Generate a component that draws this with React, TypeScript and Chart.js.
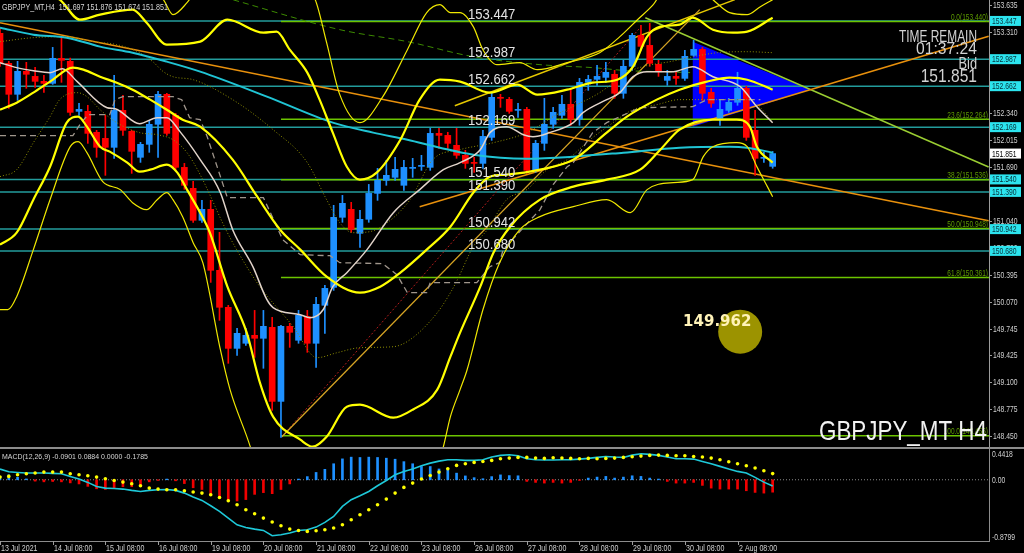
import React, { useEffect, useRef } from "react";
import { Chart, registerables } from "chart.js";

Chart.register(...registerables);

// ---------------- Candles: GBPJPY H4, bar 0 = 13 Jul 2021 08:00 ----------------
const OPEN = [
  153.298, 152.937, 152.564, 152.841, 152.78, 152.72, 152.696, 152.997, 152.961, 152.359,
  152.359, 152.107, 152.034, 151.926, 152.371, 152.119, 151.806, 151.962, 152.203, 152.564,
  152.311, 151.685, 151.433, 151.048, 151.18, 150.446, 150.001, 149.507, 149.568, 149.664,
  149.628, 149.76, 148.869, 149.772, 149.604, 149.892, 149.568, 150.025, 150.241, 151.084,
  151.18, 150.891, 151.06, 151.372, 151.529, 151.565, 151.469, 151.673, 151.697, 151.685,
  152.094, 152.07, 151.95, 151.83, 151.745, 151.733, 152.046, 152.528, 152.504, 152.371,
  152.383, 151.649, 151.974, 152.203, 152.311, 152.444, 152.263, 152.708, 152.744, 152.768,
  152.805, 152.576, 152.901, 153.274, 153.153, 152.925, 152.732, 152.78, 152.756, 153.033,
  153.105, 152.588, 152.275, 152.371, 152.468, 152.636, 152.131, 151.794, 151.697,
];
const HIGH = [
  153.358, 152.961, 152.961, 152.949, 152.889, 152.793, 153.129, 153.238, 153.0, 152.456,
  152.432, 152.131, 152.311, 152.793, 152.552, 152.131, 151.986, 152.251, 152.6, 152.576,
  152.335, 151.733, 151.517, 151.288, 151.288, 150.903, 150.025, 149.748, 149.748, 149.964,
  149.964, 149.88, 149.784, 149.808, 149.964, 149.964, 150.121, 150.265, 151.228, 151.348,
  151.264, 151.168, 151.48, 151.673, 151.77, 151.806, 151.77, 151.794, 151.83, 152.155,
  152.155, 152.107, 152.155, 151.89, 151.806, 152.131, 152.576, 152.564, 152.528, 152.456,
  152.407, 152.01, 152.516, 152.407, 152.552, 152.624, 152.756, 152.793, 152.913, 152.949,
  152.853, 152.973, 153.298, 153.394, 153.418, 152.973, 152.853, 152.829, 153.093, 153.214,
  153.129, 152.636, 152.492, 152.516, 152.829, 152.66, 152.371, 151.866, 151.876,
];
const LOW = [
  152.901, 152.395, 152.492, 152.636, 152.648, 152.588, 152.684, 152.708, 152.311, 152.311,
  151.974, 151.806, 151.589, 151.794, 152.07, 151.613, 151.745, 151.866, 151.806, 152.07,
  151.649, 151.421, 151.024, 151.024, 150.301, 149.844, 149.327, 149.423, 149.543, 149.399,
  149.267, 148.761, 148.436, 149.519, 149.568, 149.459, 149.279, 149.688, 150.205, 151.024,
  150.903, 150.723, 151.024, 151.288, 151.469, 151.529, 151.409, 151.565, 151.649, 151.649,
  151.914, 151.914, 151.794, 151.673, 151.625, 151.673, 152.01, 152.407, 152.335, 152.287,
  151.613, 151.625, 151.89, 152.155, 152.275, 152.191, 152.191, 152.612, 152.672, 152.708,
  152.516, 152.516, 152.853, 153.093, 152.901, 152.78, 152.672, 152.684, 152.732, 153.021,
  152.492, 152.407, 152.191, 152.347, 152.432, 152.01, 151.589, 151.745, 151.674,
];
const CLOSE = [
  152.937, 152.564, 152.841, 152.805, 152.72, 152.696, 152.997, 152.973, 152.347, 152.383,
  152.094, 151.926, 151.926, 152.371, 152.131, 151.878, 151.962, 152.203, 152.564, 152.094,
  151.685, 151.469, 151.048, 151.18, 150.446, 150.001, 149.507, 149.688, 149.664, 149.628,
  149.772, 148.869, 149.772, 149.7, 149.904, 149.568, 150.037, 150.229, 151.084, 151.252,
  150.939, 151.06, 151.372, 151.529, 151.589, 151.661, 151.685, 151.685, 151.709, 152.094,
  152.07, 151.974, 151.83, 151.733, 151.733, 152.058, 152.528, 152.516, 152.359, 152.383,
  151.649, 151.974, 152.203, 152.347, 152.444, 152.263, 152.708, 152.744, 152.78, 152.829,
  152.576, 152.901, 153.274, 153.141, 152.937, 152.841, 152.78, 152.756, 153.021, 153.105,
  152.576, 152.456, 152.383, 152.468, 152.636, 152.046, 151.794, 151.806, 151.851,
];

// ---------------- Indicator curves (bar index, price) ----------------
const BAND_A = [[5.0,153.78],[6.8,153.703],[9.1,153.462],[11.4,153.523],[15.1,153.583],[16.7,153.426],[19.0,153.162],[22.8,153.198],[25.9,153.462],[30.0,153.306],[31.5,153.318],[33.0,153.101],[35.0,152.825],[36.4,152.5],[37.9,152.103],[39.5,151.693],[41.0,151.537],[42.9,151.621],[45.6,152.018],[47.8,152.5],[50.1,152.74],[52.4,152.716],[55.8,152.584],[58.9,152.68],[61.2,152.56],[64.6,152.62],[67.5,152.704],[70.3,152.74],[72.1,152.897],[73.7,153.258],[75.2,153.378],[77.4,153.402],[78.9,153.486],[81.2,153.342],[83.5,153.306],[85.1,153.318],[88.0,153.486]];
const BAND_E = [[17.1,153.823],[18.6,153.703],[19.7,153.523],[21.3,153.667],[22.8,153.883],[28.5,154.18],[34.2,153.883],[35.9,153.703],[37.2,153.186],[38.7,152.56],[41.0,152.223],[43.6,152.536],[46.4,153.101],[48.6,153.547],[50.1,153.643],[51.3,153.547],[52.4,153.547],[53.9,153.378],[55.0,153.101],[56.6,152.921],[59.2,152.945],[61.2,152.861],[64.6,152.945],[68.3,153.065],[70.6,153.258],[72.6,153.462],[74.4,153.643],[75.7,153.823],[79.7,153.847],[81.2,153.703],[83.1,153.547],[85.1,153.523],[86.6,153.619],[88.0,153.703]];
const BAND_B = [[0,152.379],[1.9,152.463],[3.8,152.584],[5.7,152.716],[8.3,152.885],[9.5,152.861],[11.4,152.776],[13.3,152.703],[15.1,152.62],[17.1,152.5],[19.0,152.379],[20.8,152.259],[22.8,152.175],[26.5,151.778],[29.3,151.332],[31.9,150.935],[34.2,150.695],[37.2,150.37],[41.0,150.177],[43.3,150.249],[45.6,150.418],[48.6,150.695],[51.3,150.971],[53.9,151.38],[55.8,151.573],[57.7,151.597],[61.5,151.657],[65.3,151.778],[69.1,152.103],[71.4,152.295],[74.8,152.5],[77.4,152.62],[80.5,152.716],[83.1,152.764],[85.1,152.74],[88.0,152.62]];
const BAND_D = [[0,150.755],[1.9,150.899],[3.8,151.296],[5.7,151.693],[7.6,152.223],[8.9,152.295],[9.9,152.175],[11.4,151.934],[12.5,151.874],[14.5,151.742],[15.9,151.633],[17.1,151.657],[19.0,151.718],[20.2,151.621],[21.3,151.417],[22.8,151.14],[23.9,150.899],[25.9,150.249],[28.1,149.696],[29.6,149.094],[31.1,148.685],[34.2,148.408],[35.6,148.324],[37.2,148.444],[39.5,148.805],[41.0,148.829],[44.8,148.673],[47.0,148.769],[49.8,149.01],[51.3,149.407],[52.4,149.696],[54.7,150.249],[56.2,150.658],[58.1,150.971],[61.5,151.296],[65.3,151.453],[69.1,151.537],[72.9,151.657],[75.2,151.898],[77.4,152.139],[81.2,152.259],[83.9,152.259],[85.4,152.175],[86.2,151.934],[88.0,151.742]];
const BAND_F = [[0,149.972],[0.9,149.972],[1.9,150.129],[3.8,150.695],[5.7,151.296],[8.0,151.934],[8.9,151.994],[9.9,151.862],[11.7,151.513],[13.7,151.417],[15.1,151.26],[16.7,151.176],[17.9,151.296],[19.0,151.38],[19.7,151.296],[20.8,151.092],[22.0,150.779],[23.1,150.538],[25.1,149.491],[26.2,149.01],[28.5,148.324],[30.2,147.686],[34.2,146.964],[39.9,146.724],[45.6,146.964],[49.0,147.806],[50.5,148.324],[51.3,148.685],[52.4,149.01],[53.2,149.25],[55.0,149.972],[56.9,150.538],[59.2,150.935],[61.5,151.092],[65.3,151.212],[69.1,151.296],[71.8,151.14],[73.7,151.417],[76.7,151.501],[78.9,151.537],[80.1,151.814],[81.2,151.934],[83.9,151.982],[85.1,151.934],[86.2,151.694],[87.4,151.453],[88.0,151.332]];
const MA_CYAN = [[0,153.366],[3.8,153.282],[7.6,153.246],[11.4,153.138],[15.1,153.065],[19.0,152.957],[22.8,152.837],[30.4,152.536],[37.9,152.223],[42.5,152.103],[46.4,152.018],[50.1,151.922],[53.9,151.838],[60.0,151.79],[65.3,151.814],[71.0,151.862],[77.4,151.922],[83.1,151.934],[85.1,151.922],[88.0,151.862]];
const MA_WHITE = [[0,152.945],[1.9,152.885],[3.8,152.849],[5.7,152.825],[7.1,152.873],[8.8,152.716],[12.2,152.403],[13.1,152.391],[15.9,152.211],[17.9,152.283],[19.0,152.283],[20.5,152.115],[22.8,151.778],[25.1,151.38],[26.5,150.935],[28.8,150.49],[30.4,150.093],[31.1,149.997],[34.2,149.912],[35.3,149.876],[36.8,149.972],[37.9,150.249],[39.5,150.418],[41.8,150.695],[44.8,151.14],[47.8,151.417],[50.5,151.657],[52.4,151.742],[54.7,151.898],[55.8,152.103],[57.7,152.175],[59.6,152.078],[60.7,152.054],[62.6,152.103],[65.3,152.223],[66.4,152.343],[69.1,152.5],[70.6,152.584],[72.1,152.776],[73.7,152.837],[76.7,152.837],[78.9,152.897],[81.2,152.776],[84.3,152.656],[86.2,152.415],[88.0,152.223]];
const KIJUN_GRAY = [[0,152.066],[8.3,152.066],[9.1,152.199],[10.0,152.319],[12.5,152.319],[13.1,152.5],[14.0,152.536],[19.7,152.536],[20.7,152.499],[21.6,152.283],[22.8,152.259],[23.6,152.054],[25.9,151.32],[30.0,151.32],[30.8,151.14],[32.2,150.815],[34.2,150.634],[37.6,150.622],[38.7,150.538],[43.6,150.526],[45.2,150.394],[46.4,150.177],[48.6,150.177],[49.0,150.297],[54.3,150.297],[55.8,150.49],[56.9,150.538],[57.3,150.695],[61.5,151.176],[63.0,151.477],[64.6,151.693],[65.3,151.742],[67.5,152.103],[69.1,152.223],[70.6,152.295],[72.9,152.403],[78.9,152.415],[80.5,152.5],[86.6,152.5]];
const DOT_SLOW = [[0,153.198],[3.8,153.246],[7.6,153.258],[10.6,153.198],[13.3,153.162],[15.9,153.065],[17.4,152.957],[18.6,152.837],[19.7,152.776],[22.0,152.74],[26.5,152.5],[31.1,152.139],[35.0,151.742],[37.2,151.296],[38.7,151.019],[40.2,150.899],[42.1,150.911],[44.1,151.019],[46.7,151.296],[49.3,151.778],[52.4,151.898],[56.2,151.982],[60.0,152.103],[63.4,152.319],[68.3,152.584],[71.4,152.825],[73.2,152.897],[76.3,152.957],[79.0,153.017],[81.7,153.065],[85.1,153.077],[88.0,153.065]];
const DOT_MID = [[0,151.573],[1.9,151.657],[3.8,151.982],[5.7,152.295],[6.8,152.5],[8.8,152.584],[9.9,152.536],[11.4,152.379],[13.3,152.223],[15.9,152.103],[17.9,152.078],[19.7,152.018],[21.3,151.862],[22.8,151.597],[25.9,150.899],[28.1,150.49],[29.6,150.25],[33.4,149.768],[36.1,149.395],[38.4,149.455],[41.0,149.515],[44.8,149.527],[46.7,149.611],[49.8,149.936],[51.3,150.177],[52.1,150.334],[53.9,150.731],[55.5,150.935],[57.7,151.296],[60.0,151.417],[62.3,151.657],[64.6,151.778],[67.2,152.018],[69.5,152.199],[72.1,152.379],[74.8,152.439],[77.4,152.5],[80.1,152.5],[85.1,152.5],[86.6,152.403],[88.0,152.223]];
const DASH_GREEN = [[20.0,153.9],[26.5,153.703],[38.7,153.342],[46.4,153.198],[53.9,153.017],[61.5,152.921],[67.5,152.885],[71.4,152.849],[75.2,152.837],[78.6,152.825]];

// ---------------- Drawn objects ----------------
const TREND_ORANGE_DOWN = [[0,153.426],[112.6,151.043]];
const TREND_ORANGE_UP = [[47.8,151.212],[112.6,153.262]];
const TREND_GOLD_UP = [[32.1,148.444],[79.7,153.583]];
const TREND_RED_DOT = [[32.1,148.444],[72.9,153.366]];
const TREND_YELLOW_UP = [[51.8,152.427],[83.7,153.703]];
const TREND_YG_DOWN = [[73.5,153.486],[112.6,151.69]];
const TRIANGLE = [[78.9,153.198],[92.3,152.62],[78.9,152.175]];

const LEVELS = [153.447, 152.987, 152.662, 152.169, 151.54, 151.39, 150.942, 150.68];
const LEVEL_TEXT_BAR = 53.3;
const FIB_PCT = [0.0, 23.6, 38.2, 50.0, 61.8, 100.0];
const FIB_PRICE = [153.44, 152.264, 151.536, 150.948, 150.361, 148.456];
const FIB_START_BAR = 32;
const PRICE_TICKS = [153.635, 153.31, 152.34, 152.015, 151.69, 151.04, 150.72, 150.395, 150.07, 149.745, 149.425, 149.1, 148.775, 148.45];
const BID = 151.851;
const MARKER = { bar: 84.3, price: 149.708, textBar: 77.8, label: "149.962" };

// ---------------- MACD(12,26,9) ----------------
const MACD_HIST = [
  0.05, 0.072, 0.035, 0.012, -0.02, -0.03, -0.025, -0.03, -0.045, -0.06,
  -0.095, -0.13, -0.14, -0.115, -0.1, -0.1, -0.075, -0.03, -0.01, 0.01,
  -0.015, -0.055, -0.115, -0.14, -0.2, -0.245, -0.29, -0.305, -0.285, -0.21,
  -0.185, -0.2, -0.14, -0.06, 0.01, 0.045, 0.105, 0.15, 0.23, 0.3,
  0.325, 0.32, 0.325, 0.32, 0.31, 0.295, 0.26, 0.23, 0.19, 0.19,
  0.155, 0.135, 0.095, 0.055, 0.03, 0.015, 0.045, 0.07, 0.06, 0.057,
  -0.024, -0.038, -0.048, -0.038, -0.048, -0.038, -0.01, 0.024, 0.038, 0.048,
  0.024, 0.038, 0.057, 0.048, 0.024, 0.01, -0.024, -0.048, -0.048, -0.038,
  -0.081, -0.12, -0.134, -0.134, -0.134, -0.158, -0.182, -0.192, -0.1785,
];
const MACD_LINE = [
  0.153, 0.115, 0.105, 0.096, 0.096, 0.096, 0.091, 0.086, 0.048, 0.01,
  -0.038, -0.096, -0.12, -0.125, -0.134, -0.153, -0.168, -0.153, -0.144, -0.139,
  -0.153, -0.192, -0.249, -0.297, -0.374, -0.455, -0.551, -0.647, -0.685, -0.709,
  -0.728, -0.805, -0.79, -0.766, -0.728, -0.718, -0.68, -0.613, -0.527, -0.383,
  -0.287, -0.23, -0.168, -0.086, -0.01, 0.072, 0.12, 0.153, 0.201, 0.239,
  0.268, 0.287, 0.287, 0.278, 0.278, 0.287, 0.326, 0.35, 0.359, 0.345,
  0.302, 0.287, 0.283, 0.283, 0.287, 0.287, 0.297, 0.307, 0.321, 0.335,
  0.326, 0.321, 0.354, 0.374, 0.364, 0.35, 0.326, 0.302, 0.302, 0.297,
  0.263, 0.23, 0.192, 0.153, 0.12, 0.096, 0.034, -0.034, -0.0901,
];
const MACD_SIGNAL = [
  0.038, 0.048, 0.072, 0.086, 0.096, 0.11, 0.11, 0.11, 0.086, 0.072,
  0.057, 0.038, 0.014, -0.01, -0.034, -0.057, -0.086, -0.12, -0.134, -0.144,
  -0.144, -0.158, -0.177, -0.192, -0.216, -0.254, -0.302, -0.359, -0.431, -0.489,
  -0.551, -0.608, -0.661, -0.709, -0.728, -0.742, -0.733, -0.718, -0.694, -0.647,
  -0.575, -0.503, -0.431, -0.359, -0.278, -0.192, -0.11, -0.048, 0.01, 0.062,
  0.11, 0.158, 0.206, 0.23, 0.249, 0.263, 0.278, 0.302, 0.311, 0.321,
  0.321, 0.311, 0.307, 0.316, 0.311, 0.307, 0.302, 0.307, 0.302, 0.307,
  0.311, 0.321, 0.33, 0.34, 0.35, 0.354, 0.35, 0.345, 0.345, 0.335,
  0.326, 0.311, 0.287, 0.259, 0.23, 0.201, 0.168, 0.129, 0.0884,
];
const MACD_MAX = 0.4418;
const MACD_MIN = -0.8799;
const DATE_BARS = [0, 6, 12, 18, 24, 30, 36, 42, 48, 54, 60, 66, 72, 78, 84];
const DATE_LABELS = ["13 Jul 2021", "14 Jul 08:00", "15 Jul 08:00", "16 Jul 08:00", "19 Jul 08:00", "20 Jul 08:00", "21 Jul 08:00", "22 Jul 08:00", "23 Jul 08:00", "26 Jul 08:00", "27 Jul 08:00", "28 Jul 08:00", "29 Jul 08:00", "30 Jul 08:00", "2 Aug 08:00"];

// ---------------- Layout / style constants ----------------
const X_MAX = 112.64;
const Y_MAX = 153.699;
const Y_MIN = 148.32;
const BULL = "#1e90ff";
const BEAR = "#ff0000";
const FONT = '"Liberation Sans", Arial, sans-serif';

const pts = (arr: number[][]) => arr.map(([x, y]) => ({ x, y }));
const hline = (v: number, from = 0) => [{ x: from, y: v }, { x: X_MAX, y: v }];

function txt(ctx: CanvasRenderingContext2D, s: string, x: number, y: number, size: number, color: string, align: CanvasTextAlign = "left", sx = 1, weight = "normal", family = FONT) {
  ctx.font = `${weight} ${size}px ${family}`;
  ctx.fillStyle = color;
  ctx.textAlign = align;
  ctx.textBaseline = "alphabetic";
  const w = ctx.measureText(s).width;
  ctx.fillText(s, x, y, Math.max(1, w * sx));
}

const mainPlugin = {
  id: "mainDecor",
  beforeDatasetsDraw(chart: any) {
    const { ctx, scales } = chart;
    const x = scales.x, y = scales.y;
    ctx.save();
    ctx.beginPath();
    TRIANGLE.forEach(([b, p], i) => {
      const px = x.getPixelForValue(b), py = y.getPixelForValue(p);
      if (i === 0) ctx.moveTo(px, py); else ctx.lineTo(px, py);
    });
    ctx.closePath();
    ctx.fillStyle = "#0000ff";
    ctx.fill();
    ctx.restore();
  },
  afterDatasetsDraw(chart: any) {
    const { ctx, chartArea: a, scales } = chart;
    const x = scales.x, y = scales.y;
    ctx.save();
    LEVELS.forEach((v) => {
      txt(ctx, v.toFixed(3), x.getPixelForValue(LEVEL_TEXT_BAR), y.getPixelForValue(v) - 2, 15, "#e4e4e4", "left", 0.87);
    });
    FIB_PCT.forEach((p, i) => {
      txt(ctx, `${p.toFixed(1)}(${FIB_PRICE[i].toFixed(3)})`, a.right - 1, y.getPixelForValue(FIB_PRICE[i]) - 1.5, 8.5, "#5e9c00", "right", 0.77);
    });
    txt(ctx, MARKER.label, x.getPixelForValue(MARKER.textBar), y.getPixelForValue(MARKER.price) - 6, 15, "#fff3b8", "left", 1, "bold", '"DejaVu Sans", sans-serif');
    const r = a.right - 12;
    txt(ctx, "TIME REMAIN", r, 42, 17, "#d2d2d2", "right", 0.7);
    txt(ctx, "01:37:24", r, 53.5, 17, "#d2d2d2", "right", 0.92);
    txt(ctx, "Bid", r, 68.5, 16, "#d2d2d2", "right", 0.8);
    txt(ctx, BID.toFixed(3), r, 82, 19, "#d2d2d2", "right", 0.82);
    txt(ctx, "GBPJPY_MT H4", a.right - 2, 440, 28, "#f2f2f2", "right", 0.8);
    txt(ctx, `GBPJPY_MT,H4  ${OPEN[OPEN.length - 1].toFixed(3)} ${HIGH[HIGH.length - 1].toFixed(3)} ${LOW[LOW.length - 1].toFixed(3)} ${CLOSE[CLOSE.length - 1].toFixed(3)}`, 2, 9.5, 8.5, "#d6d6d6", "left", 0.84);
    ctx.fillStyle = "#9c9c9c";
    ctx.fillRect(a.right, 0, 1, chart.height);
    PRICE_TICKS.forEach((v) => {
      const py = y.getPixelForValue(v);
      ctx.fillStyle = "#9c9c9c";
      ctx.fillRect(a.right, Math.round(py), 3, 1);
      txt(ctx, v.toFixed(3), a.right + 4, py + 3, 8.5, "#d0d0d0", "left", 0.8);
    });
    LEVELS.forEach((v) => {
      const py = y.getPixelForValue(v);
      ctx.fillStyle = "#2ce4ee";
      ctx.fillRect(a.right + 1, py - 5, 31, 10);
      txt(ctx, v.toFixed(3), a.right + 3, py + 3, 8.5, "#06303a", "left", 0.8);
    });
    const by = y.getPixelForValue(BID);
    ctx.fillStyle = "#ffffff";
    ctx.fillRect(a.right + 1, by - 5, 31, 10);
    txt(ctx, BID.toFixed(3), a.right + 3, by + 3, 8.5, "#000000", "left", 0.8);
    ctx.restore();
  },
};

const macdPlugin = {
  id: "macdDecor",
  afterDatasetsDraw(chart: any) {
    const { ctx, chartArea: a, scales } = chart;
    const x = scales.x, y = scales.y;
    ctx.save();
    ctx.fillStyle = "#8c8c8c";
    ctx.fillRect(0, 0, chart.width, 2);
    ctx.fillRect(0, a.bottom, a.right + 1, 1);
    ctx.fillRect(a.right, 0, 1, a.bottom + 1);
    txt(ctx, `MACD(12,26,9) ${MACD_LINE[MACD_LINE.length - 1].toFixed(4)} ${MACD_SIGNAL[MACD_SIGNAL.length - 1].toFixed(4)} 0.0000 ${MACD_HIST[MACD_HIST.length - 1].toFixed(4)}`, 2, 11.5, 8, "#d6d6d6", "left", 0.87);
    txt(ctx, MACD_MAX.toFixed(4), a.right + 3, y.getPixelForValue(MACD_MAX) + 7.5, 8.5, "#d0d0d0", "left", 0.8);
    txt(ctx, "0.00", a.right + 3, y.getPixelForValue(0) + 3, 8.5, "#d0d0d0", "left", 0.8);
    txt(ctx, MACD_MIN.toFixed(4), a.right + 3, y.getPixelForValue(MACD_MIN) - 1.5, 8.5, "#d0d0d0", "left", 0.8);
    DATE_BARS.forEach((b, i) => {
      const px = Math.round(x.getPixelForValue(b));
      ctx.fillStyle = "#9c9c9c";
      ctx.fillRect(px, a.bottom, 1, 4);
      txt(ctx, DATE_LABELS[i], px + 1, a.bottom + 10, 8.5, "#d0d0d0", "left", 0.83);
    });
    ctx.restore();
  },
};

const lineDs = (data: any[], color: string, width: number, order: number, extra: any = {}) => ({
  type: "line",
  data,
  borderColor: color,
  borderWidth: width,
  pointRadius: 0,
  fill: false,
  order,
  ...extra,
});

export default function App() {
  const mainRef = useRef<HTMLCanvasElement>(null);
  const macdRef = useRef<HTMLCanvasElement>(null);

  useEffect(() => {
    const candleColor = CLOSE.map((c, i) => (c >= OPEN[i] ? BULL : BEAR));
    const smooth = { cubicInterpolationMode: "monotone" };
    const datasets: any[] = [
      ...LEVELS.map((v) => lineDs(hline(v), "#239c9c", 1.5, 90)),
      ...FIB_PRICE.map((v) => lineDs(hline(v, FIB_START_BAR), "#6cc400", 1.5, 89)),
      lineDs(pts(TREND_ORANGE_DOWN), "#e8900c", 1.6, 80),
      lineDs(pts(TREND_ORANGE_UP), "#e8900c", 1.6, 80),
      lineDs(pts(TREND_GOLD_UP), "#d6a424", 1.3, 80),
      lineDs(pts(TREND_RED_DOT), "#b01c1c", 1, 80, { borderDash: [2, 2] }),
      lineDs(pts(TREND_YELLOW_UP), "#e6c800", 1.5, 80),
      lineDs(pts(TREND_YG_DOWN), "#9acd32", 1.5, 80),
      lineDs(pts(DASH_GREEN), "#3c8a00", 1, 79, { borderDash: [6, 4], ...smooth }),
      {
        type: "bar",
        data: OPEN.map((_, i) => ({ x: i, y: [LOW[i], HIGH[i]] })),
        backgroundColor: candleColor,
        barThickness: 1,
        grouped: false,
        order: 70,
      },
      {
        type: "bar",
        data: OPEN.map((o, i) => ({ x: i, y: [o, CLOSE[i]] })),
        backgroundColor: candleColor,
        barThickness: 6,
        minBarLength: 1,
        grouped: false,
        order: 69,
      },
      lineDs(pts(DOT_SLOW), "#8f8f00", 1, 60, { borderDash: [1, 2], ...smooth }),
      lineDs(pts(DOT_MID), "#8f8f00", 1, 60, { borderDash: [1, 2], ...smooth }),
      lineDs(pts(KIJUN_GRAY), "#a0968c", 1.3, 59, { borderDash: [6, 4] }),
      lineDs(pts(MA_CYAN), "#20c4d4", 2, 58, smooth),
      lineDs(pts(MA_WHITE), "#e2d4ca", 1.5, 57, smooth),
      lineDs(pts(BAND_E), "#f0e800", 1.2, 50, smooth),
      lineDs(pts(BAND_F), "#f0e800", 1.2, 50, smooth),
      lineDs(pts(BAND_A), "#ffff00", 2.2, 49, smooth),
      lineDs(pts(BAND_B), "#ffff00", 2.2, 49, smooth),
      lineDs(pts(BAND_D), "#ffff00", 2.2, 49, smooth),
      {
        type: "scatter",
        data: [{ x: MARKER.bar, y: MARKER.price }],
        pointRadius: 22,
        pointBackgroundColor: "#9c9300",
        pointBorderWidth: 0,
        order: 40,
      },
    ];

    const main = new Chart(mainRef.current as HTMLCanvasElement, {
      type: "line",
      data: { datasets },
      options: {
        responsive: false,
        animation: false,
        devicePixelRatio: 1,
        events: [],
        layout: { autoPadding: false, padding: { left: 0, right: 35, top: 0, bottom: 0 } },
        plugins: { legend: { display: false }, tooltip: { enabled: false } },
        scales: {
          x: { type: "linear", min: 0, max: X_MAX, display: false, offset: false },
          y: { type: "linear", min: Y_MIN, max: Y_MAX, display: false, beginAtZero: false },
        },
      } as any,
      plugins: [mainPlugin as any],
    } as any);

    const macd = new Chart(macdRef.current as HTMLCanvasElement, {
      type: "line",
      data: {
        datasets: [
          lineDs(hline(0), "#8a8a8a", 1, 90, { borderDash: [1, 2] }),
          {
            type: "bar",
            data: MACD_HIST.map((v, i) => ({ x: i, y: v })),
            backgroundColor: MACD_HIST.map((v) => (v >= 0 ? BULL : "#f00000")),
            barThickness: 2,
            grouped: false,
            order: 80,
          },
          lineDs(MACD_LINE.map((v, i) => ({ x: i, y: v })), "#1ec8d8", 1.6, 60),
          {
            type: "line",
            data: MACD_SIGNAL.map((v, i) => ({ x: i, y: v })),
            showLine: false,
            pointRadius: 1.8,
            pointBackgroundColor: "#ffff00",
            pointBorderWidth: 0,
            order: 50,
          },
        ] as any,
      },
      options: {
        responsive: false,
        animation: false,
        devicePixelRatio: 1,
        events: [],
        layout: { autoPadding: false, padding: { left: 0, right: 35, top: 2, bottom: 12 } },
        plugins: { legend: { display: false }, tooltip: { enabled: false } },
        scales: {
          x: { type: "linear", min: 0, max: X_MAX, display: false, offset: false },
          y: { type: "linear", min: MACD_MIN, max: MACD_MAX, display: false, beginAtZero: false },
        },
      } as any,
      plugins: [macdPlugin as any],
    } as any);

    return () => {
      main.destroy();
      macd.destroy();
    };
  }, []);

  return (
    <div style={{ position: "absolute", left: 0, top: 0, width: 1024, height: 553, background: "#000", overflow: "hidden" }}>
      <canvas ref={mainRef} width={1024} height={447} style={{ position: "absolute", left: 0, top: 0, width: 1024, height: 447, background: "#000" }} />
      <canvas ref={macdRef} width={1024} height={106} style={{ position: "absolute", left: 0, top: 447, width: 1024, height: 106, background: "#000" }} />
    </div>
  );
}
